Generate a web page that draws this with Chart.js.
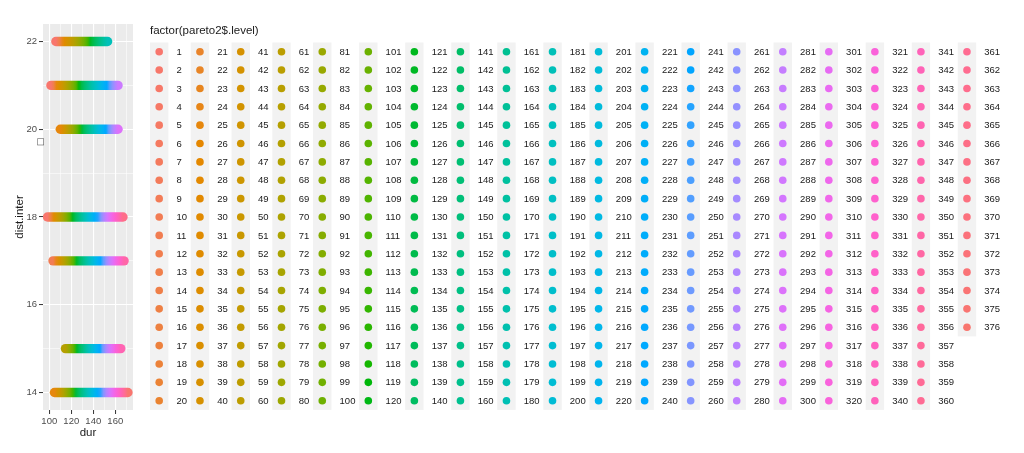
<!DOCTYPE html>
<html>
<head>
<meta charset="utf-8">
<script src="https://cdn.jsdelivr.net/npm/chart.js@4.4.1/dist/chart.umd.min.js"></script>
<style>
  html, body { margin: 0; padding: 0; background: #fff; }
  #wrap { width: 1024px; height: 453px; position: relative; }
</style>
</head>
<body>
<div id="wrap"><canvas id="chart" width="1024" height="453"></canvas></div>
<script>
// Wiersze na wykresie: dist.inter, zakres dur i poziomy na końcach
const rowDist = [22, 21, 20, 18, 17, 15, 14];
const rowDurStart = [106, 101.5, 110, 98.4, 103.4, 114.7, 104.7];
const rowDurEnd = [153, 162.5, 162.5, 167, 168, 165, 171.5];
const rowLevelStart = [1, 1, 25, 1, 10, 65, 25];
const rowLevelEnd = [182, 285, 295, 365, 350, 345, 376];

// Poziomy czynnika (legenda)
const levelCount = 376;
const levelLabels = Array.from({ length: levelCount }, (_, i) => String(i + 1));
const legendTitle = 'factor(pareto2$.level)';

// Etykiety osi
const xTicks = [100, 120, 140, 160];
const yTicks = [14, 16, 18, 20, 22];

const FONT = '"Liberation Sans", Arial, sans-serif';

/**
 * Kolor hcl() jak w R (CIE-LUV), paleta hue z ggplot
 */
function hcl(h, c, l) {
    const WY = 100, Wu = 0.1978398, Wv = 0.4683363;
    const hr = h * Math.PI / 180;
    const U = c * Math.cos(hr), V = c * Math.sin(hr);
    const Y = WY * (l > 7.999592 ? Math.pow((l + 16) / 116, 3) : l / 903.3);
    const u = U / (13 * l) + Wu;
    const v = V / (13 * l) + Wv;
    const X = 9 * Y * u / (4 * v);
    const Z = -X / 3 - 5 * Y + 3 * Y / v;
    const g = t => t > 0.00304 ? 1.055 * Math.pow(t, 1 / 2.4) - 0.055 : 12.92 * t;
    const rgb = [
        g((3.240479 * X - 1.537150 * Y - 0.498535 * Z) / WY),
        g((-0.969256 * X + 1.875992 * Y + 0.041556 * Z) / WY),
        g((0.055648 * X - 0.204043 * Y + 1.057311 * Z) / WY)
    ].map(x => Math.round(Math.min(1, Math.max(0, x)) * 255));
    return '#' + rgb.map(x => x.toString(16).padStart(2, '0')).join('');
}

function levelColor(i) {
    return hcl(15 + (i - 1) * 360 / levelCount, 100, 65);
}

// Gradient wzdłuż wiersza (od koloru poziomu początkowego do końcowego)
function rowGradient(ctx, idx) {
    const chart = ctx.chart;
    if (!chart.chartArea || !chart.scales.x) return levelColor(rowLevelStart[idx]);
    const xs = chart.scales.x;
    const x0 = xs.getPixelForValue(rowDurStart[idx]);
    const x1 = xs.getPixelForValue(rowDurEnd[idx]);
    const grad = chart.ctx.createLinearGradient(x0, 0, x1, 0);
    const n = 24;
    for (let k = 0; k <= n; k++) {
        const t = k / n;
        const lv = Math.round(rowLevelStart[idx] + t * (rowLevelEnd[idx] - rowLevelStart[idx]));
        grad.addColorStop(t, levelColor(lv));
    }
    return grad;
}

const datasets = rowDist.map((d, i) => ({
    label: 'dist ' + d,
    data: [{ x: rowDurStart[i], y: d }, { x: rowDurEnd[i], y: d }],
    showLine: true,
    borderColor: ctx => rowGradient(ctx, i),
    borderWidth: 9.4,
    borderCapStyle: 'round',
    pointRadius: 0,
    pointHoverRadius: 0,
    tension: 0
}));

/**
 * Legenda w stylu ggplot - 20 wierszy na kolumnę
 */
const legendPlugin = {
    id: 'levelLegend',
    afterDraw(chart) {
        const ctx = chart.ctx;
        ctx.save();
        ctx.textBaseline = 'middle';
        ctx.textAlign = 'left';
        ctx.fillStyle = '#1a1a1a';
        ctx.font = '11.5px ' + FONT;
        ctx.fillText(legendTitle, 150, 31);

        // dziwny znak przy osi Y
        ctx.save();
        ctx.translate(41, 142);
        ctx.rotate(-Math.PI / 2);
        ctx.font = '9px "DejaVu Sans"';
        ctx.fillStyle = '#4d4d4d';
        ctx.textAlign = 'center';
        ctx.fillText('\u25A1', 0, 0);
        ctx.restore();

        ctx.font = '9.5px ' + FONT;
        const perCol = 20, rowH = 18.37, top = 42.5, keyW = 18.4;
        let colX = 150;
        for (let c = 0; c * perCol < levelLabels.length; c++) {
            const items = levelLabels.slice(c * perCol, (c + 1) * perCol);
            const maxW = Math.max(...items.map(t => ctx.measureText(t).width));
            ctx.fillStyle = '#f2f2f2';
            ctx.fillRect(colX, top, keyW, items.length * rowH);
            items.forEach((t, r) => {
                const cy = top + rowH * (r + 0.5);
                ctx.fillStyle = levelColor(c * perCol + r + 1);
                ctx.beginPath();
                ctx.arc(colX + keyW / 2, cy, 3.8, 0, 2 * Math.PI);
                ctx.fill();
                ctx.fillStyle = '#1a1a1a';
                ctx.fillText(t, colX + 26.5, cy + 0.5);
            });
            colX += 30.2 + maxW;
        }
        ctx.restore();
    }
};

const panelBg = {
    id: 'panelBg',
    beforeDraw(chart) {
        const a = chart.chartArea;
        const ctx = chart.ctx;
        ctx.save();
        ctx.fillStyle = '#fff';
        ctx.fillRect(0, 0, chart.width, chart.height);
        ctx.fillStyle = '#ebebeb';
        ctx.fillRect(a.left, a.top, a.right - a.left, a.bottom - a.top);
        ctx.restore();
    }
};

const isMajor = (v, list) => list.includes(v);

new Chart(document.getElementById('chart'), {
    type: 'scatter',
    data: { datasets },
    plugins: [panelBg, legendPlugin],
    options: {
        responsive: false,
        animation: false,
        events: [],
        layout: { padding: { left: 0, top: 24, right: 891, bottom: 0 } },
        plugins: { legend: { display: false }, tooltip: { enabled: false } },
        scales: {
            x: {
                type: 'linear',
                min: 94.3,
                max: 176.1,
                afterFit: s => { s.height = 43; },
                border: { display: false },
                grid: {
                    color: '#ffffff',
                    lineWidth: c => isMajor(c.tick && c.tick.value, xTicks) ? 1.1 : 0.55,
                    tickColor: c => isMajor(c.tick && c.tick.value, xTicks) ? '#333333' : 'rgba(0,0,0,0)',
                    tickWidth: 1,
                    tickLength: 4
                },
                ticks: {
                    stepSize: 10,
                    includeBounds: false,
                    autoSkip: false,
                    maxRotation: 0,
                    padding: 2,
                    color: '#4d4d4d',
                    font: { size: 9.5, family: FONT },
                    callback: v => xTicks.includes(v) ? String(v) : ''
                },
                title: {
                    display: true,
                    text: 'dur',
                    color: '#1a1a1a',
                    font: { size: 11.5, family: FONT },
                    padding: { top: 0, bottom: 13 }
                }
            },
            y: {
                type: 'linear',
                min: 13.6,
                max: 22.4,
                afterFit: s => { s.width = 43; },
                border: { display: false },
                grid: {
                    color: '#ffffff',
                    lineWidth: c => isMajor(c.tick && c.tick.value, yTicks) ? 1.1 : 0.55,
                    tickColor: c => isMajor(c.tick && c.tick.value, yTicks) ? '#333333' : 'rgba(0,0,0,0)',
                    tickWidth: 1,
                    tickLength: 4
                },
                ticks: {
                    stepSize: 1,
                    includeBounds: false,
                    autoSkip: false,
                    padding: 2,
                    color: '#4d4d4d',
                    font: { size: 9.5, family: FONT },
                    callback: v => yTicks.includes(v) ? String(v) : ''
                },
                title: {
                    display: true,
                    text: 'dist.inter',
                    color: '#1a1a1a',
                    font: { size: 11.5, family: FONT },
                    padding: { top: 13, bottom: 0 }
                }
            }
        }
    }
});
</script>
</body>
</html>
